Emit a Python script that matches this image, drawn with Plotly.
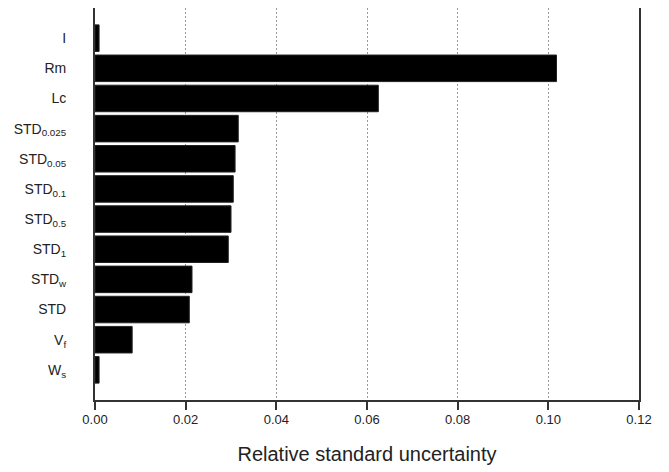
import plotly.graph_objects as go

categories = ["I", "Rm", "Lc", "STD<sub>0.025</sub>", "STD<sub>0.05</sub>", "STD<sub>0.1</sub>",
              "STD<sub>0.5</sub>", "STD<sub>1</sub>", "STD<sub>w</sub>", "STD", "V<sub>f</sub>", "W<sub>s</sub>"]
values = [0.0009, 0.1018, 0.0625, 0.0316, 0.0309, 0.0305, 0.0300, 0.0294, 0.0214, 0.0208, 0.0082, 0.0009]
xticks = [0.00, 0.02, 0.04, 0.06, 0.08, 0.10, 0.12]
xticklabels = ["0.00", "0.02", "0.04", "0.06", "0.08", "0.10", "0.12"]

fig = go.Figure(go.Bar(
    x=values, y=categories, orientation="h",
    marker=dict(color="black", line=dict(color="#222", width=1)),
    width=0.88,
))

frame = "#333333"
# page body has an 8px default margin, so the figure is shifted by (8, 8)
fig.update_layout(
    width=661, height=464,
    margin=dict(l=87, r=30, t=0, b=72),
    paper_bgcolor="white", plot_bgcolor="white",
    font=dict(family="Liberation Sans, Arial, sans-serif", color="#222", size=13),
    showlegend=False,
)
fig.update_xaxes(
    range=[0, 0.12], tickvals=xticks, ticktext=xticklabels,
    showgrid=True, gridcolor="#999999", griddash="2px,2px", gridwidth=1,
    showline=True, linecolor=frame, linewidth=2, mirror=True,
    ticks="outside", ticklen=8, tickwidth=2, tickcolor=frame,
    zeroline=False, automargin=False, ticklabelstandoff=-2,
    tickfont=dict(size=13),
    title=dict(text="Relative standard uncertainty", font=dict(size=20, color="#222"), standoff=21),
)
fig.update_yaxes(
    type="category", categoryorder="array", categoryarray=categories,
    range=[12, -1],
    showgrid=False, showline=True, linecolor=frame, linewidth=2, mirror=True,
    ticks="", ticklabelstandoff=24, zeroline=False, automargin=False,
    tickfont=dict(size=14),
)
fig.write_html("out.html")
